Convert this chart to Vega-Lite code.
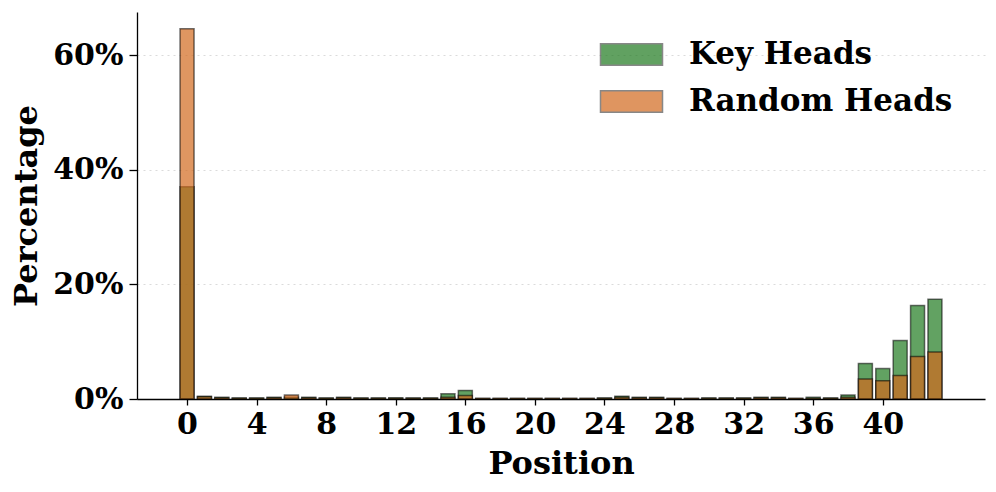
{
  "$schema": "https://vega.github.io/schema/vega-lite/v6.json",
  "autosize": "none",
  "width": 848,
  "height": 387,
  "padding": {"left": 137, "top": 12, "right": 11, "bottom": 93},
  "config": {
    "view": {"stroke": null},
    "font": "DejaVu Serif"
  },
  "data": {"values": [
    {"p":0,"s":"Key Heads","v":37.0},{"p":1,"s":"Key Heads","v":0.5},{"p":2,"s":"Key Heads","v":0.3},{"p":3,"s":"Key Heads","v":0.2},
    {"p":4,"s":"Key Heads","v":0.2},{"p":5,"s":"Key Heads","v":0.3},{"p":6,"s":"Key Heads","v":0.3},{"p":7,"s":"Key Heads","v":0.3},
    {"p":8,"s":"Key Heads","v":0.2},{"p":9,"s":"Key Heads","v":0.3},{"p":10,"s":"Key Heads","v":0.2},{"p":11,"s":"Key Heads","v":0.2},
    {"p":12,"s":"Key Heads","v":0.2},{"p":13,"s":"Key Heads","v":0.2},{"p":14,"s":"Key Heads","v":0.2},{"p":15,"s":"Key Heads","v":0.9},
    {"p":16,"s":"Key Heads","v":1.5},{"p":17,"s":"Key Heads","v":0.1},{"p":18,"s":"Key Heads","v":0.1},{"p":19,"s":"Key Heads","v":0.1},
    {"p":20,"s":"Key Heads","v":0.1},{"p":21,"s":"Key Heads","v":0.1},{"p":22,"s":"Key Heads","v":0.1},{"p":23,"s":"Key Heads","v":0.1},
    {"p":24,"s":"Key Heads","v":0.2},{"p":25,"s":"Key Heads","v":0.5},{"p":26,"s":"Key Heads","v":0.3},{"p":27,"s":"Key Heads","v":0.3},
    {"p":28,"s":"Key Heads","v":0.1},{"p":29,"s":"Key Heads","v":0.1},{"p":30,"s":"Key Heads","v":0.2},{"p":31,"s":"Key Heads","v":0.2},
    {"p":32,"s":"Key Heads","v":0.2},{"p":33,"s":"Key Heads","v":0.3},{"p":34,"s":"Key Heads","v":0.3},{"p":35,"s":"Key Heads","v":0.1},
    {"p":36,"s":"Key Heads","v":0.3},{"p":37,"s":"Key Heads","v":0.2},{"p":38,"s":"Key Heads","v":0.7},{"p":39,"s":"Key Heads","v":6.2},
    {"p":40,"s":"Key Heads","v":5.3},{"p":41,"s":"Key Heads","v":10.2},{"p":42,"s":"Key Heads","v":16.3},{"p":43,"s":"Key Heads","v":17.4},
    {"p":0,"s":"Random Heads","v":64.6},{"p":1,"s":"Random Heads","v":0.4},{"p":2,"s":"Random Heads","v":0.2},{"p":3,"s":"Random Heads","v":0.1},
    {"p":4,"s":"Random Heads","v":0.1},{"p":5,"s":"Random Heads","v":0.2},{"p":6,"s":"Random Heads","v":0.7},{"p":7,"s":"Random Heads","v":0.2},
    {"p":8,"s":"Random Heads","v":0.1},{"p":9,"s":"Random Heads","v":0.2},{"p":10,"s":"Random Heads","v":0.1},{"p":11,"s":"Random Heads","v":0.1},
    {"p":12,"s":"Random Heads","v":0.1},{"p":13,"s":"Random Heads","v":0.1},{"p":14,"s":"Random Heads","v":0.1},{"p":15,"s":"Random Heads","v":0.3},
    {"p":16,"s":"Random Heads","v":0.6},{"p":17,"s":"Random Heads","v":0.1},{"p":18,"s":"Random Heads","v":0.1},{"p":19,"s":"Random Heads","v":0.1},
    {"p":20,"s":"Random Heads","v":0.1},{"p":21,"s":"Random Heads","v":0.1},{"p":22,"s":"Random Heads","v":0.1},{"p":23,"s":"Random Heads","v":0.1},
    {"p":24,"s":"Random Heads","v":0.1},{"p":25,"s":"Random Heads","v":0.3},{"p":26,"s":"Random Heads","v":0.2},{"p":27,"s":"Random Heads","v":0.2},
    {"p":28,"s":"Random Heads","v":0.1},{"p":29,"s":"Random Heads","v":0.1},{"p":30,"s":"Random Heads","v":0.1},{"p":31,"s":"Random Heads","v":0.1},
    {"p":32,"s":"Random Heads","v":0.1},{"p":33,"s":"Random Heads","v":0.2},{"p":34,"s":"Random Heads","v":0.2},{"p":35,"s":"Random Heads","v":0.1},
    {"p":36,"s":"Random Heads","v":0.1},{"p":37,"s":"Random Heads","v":0.1},{"p":38,"s":"Random Heads","v":0.3},{"p":39,"s":"Random Heads","v":3.5},
    {"p":40,"s":"Random Heads","v":3.2},{"p":41,"s":"Random Heads","v":4.1},{"p":42,"s":"Random Heads","v":7.4},{"p":43,"s":"Random Heads","v":8.2}
  ]},
  "mark": {"type": "bar", "width": 14, "fillOpacity": 0.7, "stroke": "#000000", "strokeOpacity": 0.55, "strokeWidth": 1.5},
  "encoding": {
    "x": {
      "field": "p", "type": "quantitative",
      "scale": {"domain": [-2.59, 45.59], "nice": false, "zero": false},
      "axis": {
        "values": [0,4,8,12,16,20,24,28,32,36,40],
        "title": "Position", "titleFont": "DejaVu Serif", "titleFontSize": 32, "titleFontWeight": "bold", "titleColor": "#000", "titlePadding": 9,
        "labelFont": "DejaVu Serif", "labelFontSize": 30, "labelFontWeight": "bold", "labelColor": "#000", "labelPadding": 4,
        "domainColor": "#000", "domainWidth": 1.3, "tickColor": "#000", "tickSize": 6, "tickWidth": 1.3, "grid": false
      }
    },
    "y": {
      "field": "v", "type": "quantitative", "stack": null,
      "scale": {"domain": [0, 67.5], "nice": false},
      "axis": {
        "values": [0,20,40,60], "labelExpr": "datum.value + '%'",
        "title": "Percentage", "titleFont": "DejaVu Serif", "titleFontSize": 32, "titleFontWeight": "bold", "titleColor": "#000", "titlePadding": 9,
        "labelFont": "DejaVu Serif", "labelFontSize": 30, "labelFontWeight": "bold", "labelColor": "#000", "labelPadding": 6,
        "domainColor": "#000", "domainWidth": 1.3, "tickColor": "#000", "tickSize": 8, "tickWidth": 1.3,
        "grid": true, "gridColor": "#cccccc", "gridDash": [2, 4], "gridWidth": 1, "gridOpacity": 0.7
      }
    },
    "color": {
      "field": "s", "type": "nominal",
      "scale": {"domain": ["Key Heads", "Random Heads"], "range": ["#1f7a1f", "#d2691e"]},
      "legend": {
        "title": null, "orient": "none", "legendX": 478, "legendY": 26,
        "symbolType": "M-2,-0.7H2V0.7H-2Z", "symbolSize": 961, "symbolOpacity": 0.7,
        "symbolStrokeColor": "#555", "symbolStrokeWidth": 1.5,
        "labelFont": "DejaVu Serif", "labelFontSize": 31, "labelFontWeight": "bold", "labelColor": "#000",
        "labelOffset": 41, "labelLimit": 500, "rowPadding": 15
      }
    }
  }
}
